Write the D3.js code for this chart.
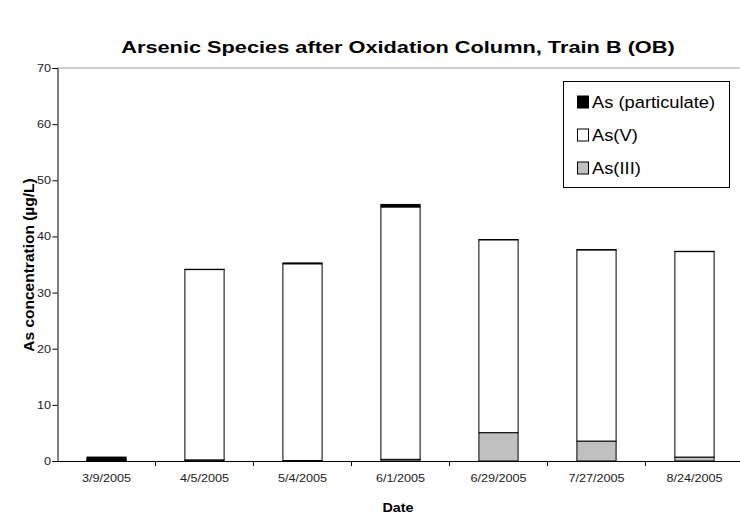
<!DOCTYPE html>
<html><head><meta charset="utf-8">
<script src="https://cdn.jsdelivr.net/npm/d3@7"></script>
<style>body{margin:0;background:#fff}svg{display:block;font-family:"Liberation Sans",Arial,sans-serif}</style>
</head><body><svg id="c" width="740" height="519"></svg>
<script>
const dates = ["3/9/2005","4/5/2005","5/4/2005","6/1/2005","6/29/2005","7/27/2005","8/24/2005"];
const asIII = [0.05, 0.2, 0.08, 0.3, 5.05, 3.55, 0.7];
const asV = [0.1, 33.9, 35.05, 44.95, 34.35, 34.05, 36.6];
const asPart = [0.55, 0.05, 0.15, 0.45, 0.05, 0.05, 0.05];
const yTicks = [0,10,20,30,40,50,60,70];
const seriesNames = ["As(III)","As(V)","As (particulate)"];
const seriesColors = ["#c0c0c0","#ffffff","#000000"];

const svg = d3.select("#c");
const pL = 57.5, pR = 743.5, pT = 68, pB = 461;
const x = d3.scaleBand().domain(dates).range([pL, pR]).paddingInner(0.6).paddingOuter(0.3);
const xb = d3.scaleBand().domain(dates).range([pL, pR]);
const y = d3.scaleLinear().domain([0,70]).range([pB, pT]);
const SX = 1.15; // horizontal stretch of the source picture's text

function stretch(sel, sx){
  sel.each(function(){
    const t = d3.select(this);
    const bb = this.getBBox();
    const anchor = t.attr("text-anchor") || getComputedStyle(this).textAnchor || "start";
    let ax = bb.x;
    if (anchor === "middle") ax = bb.x + bb.width/2;
    else if (anchor === "end") ax = bb.x + bb.width;
    const prev = t.attr("transform") || "";
    t.attr("transform", `${prev} translate(${ax},0) scale(${sx},1) translate(${-ax},0)`);
  });
}

// plot area top border
svg.append("line").attr("x1", pL).attr("x2", 740).attr("y1", pT).attr("y2", pT).attr("stroke","#999").attr("stroke-width",1);

const rows = dates.map((d,i)=>({date:d, "As(III)":asIII[i], "As(V)":asV[i], "As (particulate)":asPart[i]}));
const stack = d3.stack().keys(seriesNames)(rows);
stack.forEach((s,si)=>{
  svg.append("g").selectAll("rect").data(s).join("rect")
    .attr("x", d=>x(d.data.date)).attr("width", x.bandwidth())
    .attr("y", d=>y(d[1])).attr("height", d=>Math.max(0, y(d[0])-y(d[1])))
    .attr("fill", seriesColors[si]).attr("stroke","#000").attr("stroke-width",1);
});

// y axis
const ya = svg.append("g").attr("transform",`translate(${pL},0)`)
  .call(d3.axisLeft(y).tickValues(yTicks).tickSize(5).tickPadding(1.5));
ya.select(".domain").attr("stroke","#000");
ya.selectAll("text").attr("font-size",11).attr("fill","#222").attr("font-family","Liberation Sans, Arial, sans-serif");
stretch(ya.selectAll("text"), SX);
// x axis
const xa = svg.append("g").attr("transform",`translate(0,${pB})`)
  .call(d3.axisBottom(xb).tickSize(0).tickPadding(13));
xa.select(".domain").attr("stroke","#000");
xa.selectAll("text").attr("font-size",11).attr("fill","#222").attr("font-family","Liberation Sans, Arial, sans-serif");
stretch(xa.selectAll("text"), SX);
svg.append("g").selectAll("line").data(dates.slice(1)).join("line")
  .attr("x1", d=>xb(d)).attr("x2", d=>xb(d)).attr("y1", pB).attr("y2", pB+5).attr("stroke","#000");

// titles
const title = svg.append("text").attr("x",398).attr("y",53).attr("text-anchor","middle").attr("font-size",17).attr("font-weight","bold").text("Arsenic Species after Oxidation Column, Train B (OB)");
stretch(title, 1.28);
const xl = svg.append("text").attr("x",398).attr("y",512).attr("text-anchor","middle").attr("font-size",12.5).attr("font-weight","bold").text("Date");
stretch(xl, SX);
svg.append("text").attr("transform","translate(34,265) rotate(-90)").attr("text-anchor","middle").attr("font-size",15.5).attr("font-weight","bold").text("As concentration (µg/L)");

// legend
const lg = svg.append("g");
lg.append("rect").attr("x",563.5).attr("y",81.5).attr("width",166).attr("height",106).attr("fill","#fff").attr("stroke","#000");
const legendOrder = [2,1,0];
legendOrder.forEach((si,k)=>{
  const cy = 102 + k*33;
  lg.append("rect").attr("x",577.5).attr("y",cy-6).attr("width",11).attr("height",12).attr("fill",seriesColors[si]).attr("stroke","#000");
  const t = lg.append("text").attr("x",592).attr("y",cy+6).attr("font-size",16.5).text(seriesNames[si]);
  stretch(t, 1.11);
});
</script></body></html>
